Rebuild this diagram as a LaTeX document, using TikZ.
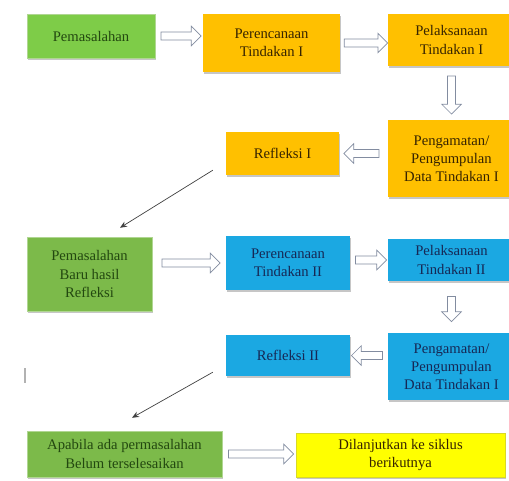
\documentclass[tikz,border=0pt]{standalone}
\usepackage{fontspec}
\setmainfont{Liberation Serif}
\usetikzlibrary{shapes.arrows, arrows.meta, shadows}
\definecolor{greenA}{RGB}{126,204,72}
\definecolor{greenB}{RGB}{124,186,74}
\definecolor{orangeBox}{RGB}{255,192,0}
\definecolor{blueBox}{RGB}{27,168,226}
\definecolor{yellowBox}{RGB}{255,255,0}
\definecolor{greenText}{RGB}{35,72,16}
\definecolor{brownText}{RGB}{55,36,0}
\definecolor{navyText}{RGB}{22,40,85}
\definecolor{arrowGray}{RGB}{130,140,160}
\tikzstyle{stagebox} = [rectangle, align=center, font=\fontsize{12.5}{15.5}\selectfont, inner sep=2pt, drop shadow={shadow xshift=1pt, shadow yshift=-2pt, fill=gray!45, opacity=1}]
\tikzstyle{greenbox} = [stagebox, fill=greenB, draw=greenB!60!white, text=greenText]
\tikzstyle{orangebox} = [stagebox, fill=orangeBox, text=brownText]
\tikzstyle{bluebox} = [stagebox, fill=blueBox, text=navyText]
\tikzstyle{yellowbox} = [stagebox, fill=yellowBox, draw=yellowBox!70!gray, text=brownText]
\tikzstyle{hollow} = [single arrow, draw=arrowGray, fill=white, line width=0.6pt, inner sep=0pt, text height=0.22cm, text depth=0pt, single arrow head extend=0.17cm, single arrow tip angle=90, sloped, allow upside down]
\tikzstyle{pointer} = [draw=black!75, line width=0.6pt, -{Stealth[length=6pt, width=5pt]}]

\begin{document}
\begin{tikzpicture}[x=0.03cm, y=-0.03cm]
  \useasboundingbox (0,0) rectangle (509,480);

  % Siklus I
  \node (pem) at (91,36) [greenbox, fill=greenA, minimum width=3.84cm, minimum height=1.32cm] {Pemasalahan};
  \node (ren1) at (271.5,43) [orangebox, minimum width=4.11cm, minimum height=1.74cm] {Perencanaan\\Tindakan I};
  \node (lak1) at (451.5,40) [orangebox, minimum width=3.81cm, minimum height=1.56cm] {Pelaksanaan\\Tindakan I};
  \node (amat1) at (451.5,158.5) [orangebox, minimum width=3.81cm, minimum height=2.31cm] {Pengamatan/\\Pengumpulan\\Data Tindakan I};
  \node (ref1) at (282.5,153.5) [orangebox, minimum width=3.39cm, minimum height=1.29cm] {Refleksi I};

  % Siklus II
  \node (pem2) at (89.5,274) [greenbox, minimum width=3.75cm, minimum height=2.22cm] {Pemasalahan\\Baru hasil\\Refleksi};
  \node (ren2) at (288,263) [bluebox, minimum width=3.72cm, minimum height=1.62cm] {Perencanaan\\Tindakan II};
  \node (lak2) at (451.5,260) [bluebox, minimum width=3.81cm, minimum height=1.26cm] {Pelaksanaan\\Tindakan II};
  \node (amat2) at (451.5,366.5) [bluebox, minimum width=3.81cm, minimum height=2.01cm] {Pengamatan/\\Pengumpulan\\Data Tindakan I};
  \node (ref2) at (288,355.5) [bluebox, minimum width=3.72cm, minimum height=1.23cm] {Refleksi II};

  % Akhir
  \node (apa) at (124.5,454) [greenbox, minimum width=5.85cm, minimum height=1.38cm] {Apabila ada permasalahan\\Belum terselesaikan};
  \node (lanjut) at (400.5,455) [yellowbox, minimum width=6.27cm, minimum height=1.32cm] {Dilanjutkan ke siklus\\berikutnya};

  % Panah blok
  \path (pem.east) -- (pem.east -| ren1.west) node[hollow, midway, minimum height=1.2cm] {};
  \path (ren1.east) -- (ren1.east -| lak1.west) node[hollow, midway, minimum height=1.3cm] {};
  \path (lak1) -- (amat1) node[hollow, midway, minimum height=1.14cm] {};
  \path (ref1.east -| amat1.west) -- (ref1.east) node[hollow, midway, minimum height=1.05cm] {};
  \path (pem2.east |- ren2.west) -- (ren2.west) node[hollow, midway, minimum height=1.74cm] {};
  \path (ren2.east |- lak2.west) -- (lak2.west) node[hollow, midway, minimum height=0.93cm] {};
  \path (lak2) -- (amat2) node[hollow, midway, minimum height=0.75cm] {};
  \path (ref2.east -| amat2.west) -- (ref2.east) node[hollow, midway, minimum height=0.93cm] {};
  \path (apa.east) -- (apa.east -| lanjut.west) node[hollow, midway, minimum height=1.95cm] {};

  % Panah garis
  \draw[pointer] ([shift={(-13,-5)}]ref1.south west) -- ([shift={(30.5,-9)}]pem2.north);
  \draw[pointer] ([shift={(-13,-4)}]ref2.south west) -- ([shift={(7.5,-13)}]apa.north);

  % tanda kecil
  \draw[gray!60, line width=1pt] (25,368) -- (25,383);
\end{tikzpicture}
\end{document}
